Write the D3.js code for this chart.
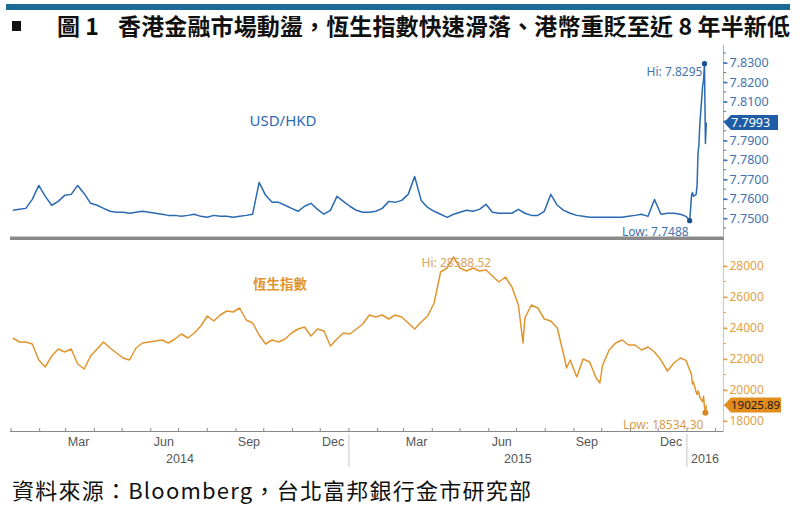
<!DOCTYPE html>
<html lang="zh-TW"><head><meta charset="utf-8">
<script src="https://cdn.jsdelivr.net/npm/d3@7"></script>
<style>
body{margin:0;background:#fff;}
svg{display:block;}
</style></head><body>
<svg id="c" width="800" height="515" lang="zh-TW"></svg>
<script>
// ---------- DATA ----------
const weeks = [
"2014-01-03","2014-01-10","2014-01-17","2014-01-24","2014-01-31","2014-02-07","2014-02-14","2014-02-21","2014-02-28",
"2014-03-07","2014-03-14","2014-03-21","2014-03-28","2014-04-04","2014-04-11","2014-04-18","2014-04-25",
"2014-05-02","2014-05-09","2014-05-16","2014-05-23","2014-05-30","2014-06-06","2014-06-13","2014-06-20","2014-06-27",
"2014-07-04","2014-07-11","2014-07-18","2014-07-25","2014-08-01","2014-08-08","2014-08-15","2014-08-22","2014-08-29",
"2014-09-05","2014-09-12","2014-09-19","2014-09-26","2014-10-03","2014-10-10","2014-10-17","2014-10-24","2014-10-31",
"2014-11-07","2014-11-14","2014-11-21","2014-11-28","2014-12-05","2014-12-12","2014-12-19","2014-12-26",
"2015-01-02","2015-01-09","2015-01-16","2015-01-23","2015-01-30","2015-02-06","2015-02-13","2015-02-20","2015-02-27",
"2015-03-06","2015-03-13","2015-03-20","2015-03-27","2015-04-03","2015-04-10","2015-04-17","2015-04-24",
"2015-05-01","2015-05-08","2015-05-15","2015-05-22","2015-05-29","2015-06-05","2015-06-12","2015-06-19","2015-06-26",
"2015-07-03","2015-07-10","2015-07-17","2015-07-24","2015-07-31","2015-08-07","2015-08-14","2015-08-21","2015-08-28",
"2015-09-04","2015-09-11","2015-09-18","2015-09-25","2015-10-02","2015-10-09","2015-10-16","2015-10-23","2015-10-30",
"2015-11-06","2015-11-13","2015-11-20","2015-11-27","2015-12-04","2015-12-11","2015-12-18","2015-12-25","2015-12-31"
];
const jan2016 = ["2016-01-04","2016-01-05","2016-01-06","2016-01-07","2016-01-08","2016-01-11","2016-01-12","2016-01-13",
"2016-01-14","2016-01-15","2016-01-18","2016-01-19","2016-01-20","2016-01-21","2016-01-22"];

const usdValues = [
7.7541,7.7546,7.7551,7.7597,7.7669,7.7613,7.7567,7.7587,7.7618,
7.7623,7.7669,7.7628,7.7577,7.7567,7.7551,7.7536,7.7531,
7.7531,7.7526,7.7531,7.7536,7.7531,7.7526,7.7521,7.7515,7.7515,
7.7510,7.7515,7.7521,7.7510,7.7505,7.7515,7.7510,7.7510,7.7505,
7.7510,7.7515,7.7521,7.7685,7.7618,7.7582,7.7582,7.7567,7.7551,
7.7536,7.7562,7.7577,7.7546,7.7521,7.7541,7.7613,7.7587,
7.7562,7.7541,7.7531,7.7531,7.7536,7.7551,7.7587,7.7582,7.7592,
7.7623,7.7715,7.7592,7.7556,7.7536,7.7521,7.7505,7.7521,
7.7531,7.7541,7.7536,7.7546,7.7572,7.7531,7.7526,7.7526,7.7526,
7.7546,7.7526,7.7515,7.7515,7.7536,7.7623,7.7567,7.7541,7.7526,
7.7515,7.7510,7.7505,7.7505,7.7505,7.7505,7.7505,7.7505,7.7510,
7.7515,7.7521,7.7510,7.7597,7.7521,7.7526,7.7526,7.7521,7.7510,
7.7488,7.7551,7.7618,7.7633,7.7613,7.7623,7.7669,7.7833,
7.7880,7.7987,7.8180,7.8210,7.8295,7.7885,7.7993
];

const hsiValues = [
23355,23097,23097,22968,21935,21484,22194,22645,22452,
22645,21677,21355,22194,22645,23097,22710,22387,
22065,21935,22710,23032,23097,23161,23226,23032,23290,
23613,23355,23677,24129,24774,24452,24839,25097,25032,
25290,24516,24323,23548,22968,23226,23097,23290,23677,
23935,24065,23484,23935,23806,22839,23290,23677,
23613,23935,24258,24839,24710,24839,24581,24839,24710,
24323,23935,24387,24774,25613,27613,27871,28588.52,
27871,27677,27871,27677,27742,27355,26968,27290,26645,
25484,24645,25484,25290,24581,24452,24000,22258,21935,
20839,22000,21806,20774,21613,22581,23032,23226,22903,
22903,22581,22774,22452,21935,21226,21742,22065,21914,
21290,21160,20950,20390,20516,19870,19710,19940,
19820,19520,19240,19600,18890,18534.30,19025.89
];
const hsiExtraDates = ["2015-07-08","2015-08-24","2015-09-29"];
const hsiExtraValues = [23032,21419,20452];

const usdTicks = [7.75,7.76,7.77,7.78,7.79,7.80,7.81,7.82,7.83];
const hsiTicks = [18000,20000,22000,24000,26000,28000];
const monthLabels = ["2014-03-15","2014-06-15","2014-09-15","2014-12-15","2015-03-15","2015-06-15","2015-09-15","2015-12-15"];
const years = ["2014","2015","2016"];

const titleText = "香港金融市場動盪，恆生指數快速滑落、港幣重貶至近 8 年半新低";
const sourceText = "資料來源：Bloomberg，台北富邦銀行金市研究部";

// ---------- CHART ----------
const parse = d3.timeParse("%Y-%m-%d");
const svg = d3.select("#c");
const BLUE = "#2b69b2", BLUE_T = "#4273b0", ORANGE = "#e0952f", ORANGE_T = "#e2a049";

const domStart = parse("2014-01-01"), domEnd = parse("2016-02-09");
const x = d3.scaleTime().domain([domStart, domEnd]).range([11, 723]);
const yTop = d3.scaleLinear().domain([7.75, 7.83]).range([218.3, 62.7]);
const yBot = d3.scaleLinear().domain([18000, 28000]).range([421, 266]);

const allDates = weeks.concat(jan2016);
const usd = allDates.map((d, i) => ({date: parse(d), v: usdValues[i]}));
const hsi = allDates.map((d, i) => ({date: parse(d), v: hsiValues[i]}))
  .concat(hsiExtraDates.map((d, i) => ({date: parse(d), v: hsiExtraValues[i]})))
  .sort((a, b) => a.date - b.date);

// title bar
svg.append("rect").attr("x", 6).attr("y", 4).attr("width", 784).attr("height", 6).attr("fill", "#1d6a96");
svg.append("rect").attr("x", 12).attr("y", 21).attr("width", 9).attr("height", 10).attr("fill", "#111");
const cjk = "'Noto Sans CJK TC','Noto Sans CJK SC',sans-serif";
svg.append("text").attr("x", 57).attr("y", 35).attr("font-family", cjk).attr("font-weight", 700)
  .attr("font-size", 23).attr("fill", "#111").text("圖 1");
svg.append("text").attr("x", 118).attr("y", 35).attr("font-family", cjk).attr("font-weight", 700)
  .attr("font-size", 23).attr("fill", "#111").attr("textLength", 672).attr("lang", "zh-TW").text(titleText);

// separator
svg.append("rect").attr("x", 10).attr("y", 236.5).attr("width", 714).attr("height", 3.5).attr("fill", "#8a8a8a");

// right axes lines
svg.append("line").attr("x1", 723.5).attr("x2", 723.5).attr("y1", 45).attr("y2", 236).attr("stroke", "#9db3d3");
svg.append("line").attr("x1", 723.5).attr("x2", 723.5).attr("y1", 240).attr("y2", 431).attr("stroke", "#eec28a");

const num = "'Noto Sans','Open Sans',sans-serif";
// top axis
const topMinor = d3.range(7.745, 7.8351, 0.005);
svg.append("g").selectAll("line").data(topMinor).join("line")
  .attr("x1", 723.5).attr("x2", 726).attr("y1", d => yTop(d)).attr("y2", d => yTop(d)).attr("stroke", BLUE_T);
const gT = svg.append("g").attr("transform", "translate(723.5,0)")
  .call(d3.axisRight(yTop).tickValues(usdTicks).tickFormat(d3.format(".4f")).tickSize(4).tickPadding(2));
gT.select(".domain").remove();
gT.selectAll(".tick line").attr("stroke", BLUE_T).attr("stroke-width", 1.5);
gT.selectAll(".tick text").attr("fill", BLUE_T).attr("font-family", num).attr("font-size", 12.5);

// bottom axis
const botMinor = d3.range(18000, 28001, 1000);
svg.append("g").selectAll("line").data(botMinor).join("line")
  .attr("x1", 723.5).attr("x2", 726).attr("y1", d => yBot(d)).attr("y2", d => yBot(d)).attr("stroke", ORANGE_T);
const gB = svg.append("g").attr("transform", "translate(723.5,0)")
  .call(d3.axisRight(yBot).tickValues(hsiTicks).tickFormat(d3.format("d")).tickSize(4).tickPadding(2));
gB.select(".domain").remove();
gB.selectAll(".tick line").attr("stroke", ORANGE_T).attr("stroke-width", 1.5);
gB.selectAll(".tick text").attr("fill", ORANGE_T).attr("font-family", num).attr("font-size", 12);

// x axis
svg.append("line").attr("x1", 10).attr("x2", 723.5).attr("y1", 431.5).attr("y2", 431.5).attr("stroke", "#888");
const months = d3.timeMonth.range(d3.timeMonth.ceil(domStart), domEnd);
svg.append("g").selectAll("line").data(months).join("line")
  .attr("x1", d => x(d)).attr("x2", d => x(d)).attr("y1", 428).attr("y2", 431.5).attr("stroke", "#888");
const narrow = "'Liberation Sans Narrow','Arial Narrow','Liberation Sans',sans-serif";
const fmtM = d3.timeFormat("%b");
svg.append("g").selectAll("text").data(monthLabels).join("text")
  .attr("x", d => x(parse(d))).attr("y", 446).attr("text-anchor", "middle")
  .attr("font-family", narrow).attr("font-size", 12.5).attr("fill", "#555").text(d => fmtM(parse(d)));
const yearStarts = years.map(y => parse(y + "-01-01"));
svg.append("g").selectAll("text").data(years).join("text")
  .attr("x", (d, i) => {
    const a = Math.max(x(yearStarts[i]), x(domStart));
    const b = i < years.length - 1 ? x(yearStarts[i + 1]) : x(domEnd);
    return (a + b) / 2;
  })
  .attr("y", 463).attr("text-anchor", "middle")
  .attr("font-family", narrow).attr("font-size", 12.5).attr("fill", "#555").text(d => d);
svg.append("g").selectAll("line").data(yearStarts.slice(1)).join("line")
  .attr("x1", d => x(d)).attr("x2", d => x(d)).attr("y1", 434).attr("y2", 467).attr("stroke", "#c8c8c8");

// lines
svg.append("path").datum(usd).attr("fill", "none").attr("stroke", BLUE).attr("stroke-width", 1.5)
  .attr("stroke-linejoin", "round")
  .attr("d", d3.line().x(d => x(d.date)).y(d => yTop(d.v)));
svg.append("path").datum(hsi).attr("fill", "none").attr("stroke", ORANGE).attr("stroke-width", 1.5)
  .attr("stroke-linejoin", "round")
  .attr("d", d3.line().x(d => x(d.date)).y(d => yBot(d.v)));

// series labels
svg.append("text").attr("x", 283).attr("y", 126).attr("text-anchor", "middle").attr("font-family", num)
  .attr("font-size", 15).attr("fill", BLUE).text("USD/HKD");
svg.append("text").attr("x", 280).attr("y", 289).attr("text-anchor", "middle").attr("font-family", cjk)
  .attr("font-weight", 700).attr("font-size", 13.5).attr("fill", ORANGE).text("恆生指數");

// hi / low annotations
const uHi = usd.reduce((a, b) => b.v > a.v ? b : a), uLo = usd.reduce((a, b) => b.v < a.v ? b : a);
const hHi = hsi.reduce((a, b) => b.v > a.v ? b : a), hLo = hsi.reduce((a, b) => b.v < a.v ? b : a);
const f4 = d3.format(".4f"), f2 = d3.format(".2f");

svg.append("circle").attr("cx", x(uHi.date)).attr("cy", yTop(uHi.v)).attr("r", 2.6).attr("fill", "#1c4f8f");
svg.append("text").attr("x", x(uHi.date) - 2).attr("y", yTop(uHi.v) + 12).attr("text-anchor", "end")
  .attr("font-family", num).attr("font-size", 12).attr("fill", BLUE_T).text("Hi: " + f4(uHi.v));
svg.append("circle").attr("cx", x(uLo.date)).attr("cy", yTop(uLo.v)).attr("r", 2.6).attr("fill", "#1c4f8f");
svg.append("text").attr("x", x(uLo.date) - 1).attr("y", yTop(uLo.v) + 15).attr("text-anchor", "end")
  .attr("font-family", num).attr("font-size", 12).attr("fill", BLUE_T).text("Low: " + f4(uLo.v));

svg.append("text").attr("x", x(hHi.date) - 32).attr("y", yBot(hHi.v) + 10)
  .attr("font-family", num).attr("font-size", 12).attr("fill", "#d8a45e").text("Hi: " + f2(hHi.v));
svg.append("circle").attr("cx", x(hLo.date)).attr("cy", yBot(hLo.v)).attr("r", 3).attr("fill", "#d98a22");
svg.append("text").attr("x", x(hLo.date) - 2).attr("y", yBot(hLo.v) + 16).attr("text-anchor", "end")
  .attr("font-family", num).attr("font-size", 12).attr("fill", "#d99b4a").text("Low: " + f2(hLo.v));

// last-value boxes
function lastBox(cy, fill, txtColor, label, fs, right) {
  const g = svg.append("g");
  g.append("path").attr("fill", fill)
    .attr("d", `M724,${cy} L731,${cy - 7.5} L${right},${cy - 7.5} L${right},${cy + 7.5} L731,${cy + 7.5} Z`);
  g.append("text").attr("x", 731).attr("y", cy + 4.2).attr("font-family", num).attr("font-size", fs)
    .attr("fill", txtColor).text(label);
}
const uLast = usd[usd.length - 1], hLast = hsi[hsi.length - 1];
lastBox(yTop(uLast.v), "#1f5ea6", "#fff", f4(uLast.v), 12.5, 778);
lastBox(yBot(hLast.v), "#e28c1e", "#1a1a1a", f2(hLast.v), 11.5, 781);

// source
svg.append("text").attr("x", 12).attr("y", 499).attr("font-family", cjk).attr("font-size", 22)
  .attr("fill", "#111").attr("textLength", 519).attr("lang", "zh-TW").text(sourceText);
</script>
</body></html>
